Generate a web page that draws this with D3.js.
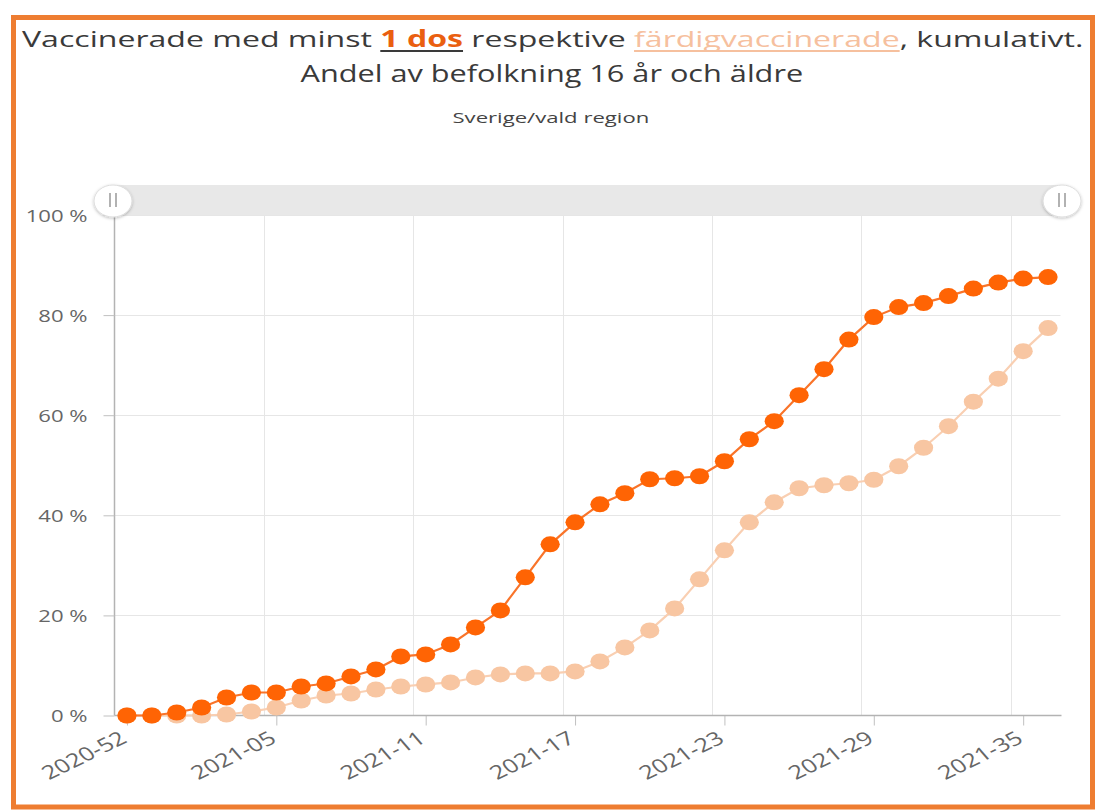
<!DOCTYPE html>
<html><head><meta charset="utf-8">
<script src="https://cdn.jsdelivr.net/npm/d3@7"></script>
<style>
html,body{margin:0;padding:0;background:#fff;}
svg{display:block;}
</style></head>
<body>
<svg id="c" width="1097" height="811"></svg>
<script>
const weeks = ["2020-52","2020-53","2021-01","2021-02","2021-03","2021-04","2021-05","2021-06","2021-07","2021-08",
  "2021-09","2021-10","2021-11","2021-12","2021-13","2021-14","2021-15","2021-16","2021-17","2021-18",
  "2021-19","2021-20","2021-21","2021-22","2021-23","2021-24","2021-25","2021-26","2021-27","2021-28",
  "2021-29","2021-30","2021-31","2021-32","2021-33","2021-34","2021-35","2021-36"];
const minstEnDos = [0,0,0.6,1.6,3.6,4.6,4.6,5.8,6.4,7.8,
  9.2,11.8,12.2,14.2,17.6,21.0,27.6,34.2,38.6,42.2,
  44.4,47.2,47.4,47.8,50.8,55.2,58.8,64.0,69.2,75.1,
  79.6,81.6,82.4,83.8,85.3,86.5,87.3,87.6];
const fardigvacc = [0,0,0,0,0.2,0.8,1.6,3.0,4.0,4.4,
  5.2,5.8,6.2,6.6,7.6,8.2,8.4,8.4,8.8,10.8,
  13.6,17.0,21.4,27.2,33.0,38.6,42.6,45.4,46.0,46.4,
  47.1,49.8,53.5,57.8,62.7,67.3,72.8,77.4];
const xTickLabels = ["2020-52","2021-05","2021-11","2021-17","2021-23","2021-29","2021-35"];
const yTicks = [0,20,40,60,80,100];
const titleParts = ["Vaccinerade med minst ","1 dos"," respektive ","färdigvaccinerade",", kumulativt."];
const title2 = "Andel av befolkning 16 år och äldre";
const subtitle = "Sverige/vald region";

(function(){
const svg = d3.select("#c");
const FONT = "'Open Sans', 'Noto Sans', sans-serif";
const cDark = "#ff6404", cLight = "#f8c6a2";
const SX = 1.33; // horizontal stretch of the reference screenshot

// frame
svg.append("rect").attr("x",13.5).attr("y",17.5).attr("width",1079).attr("height",789.5)
  .attr("fill","#fff").attr("stroke","#ee7d31").attr("stroke-width",5);

// scales
const pL = 114.5, pR = 1060.5, pT = 215, pB = 715.5;
const x = d3.scaleBand().domain(weeks).range([pL,pR]).padding(0);
const xc = d => x(d) + x.bandwidth()/2;
const y = d3.scaleLinear().domain([0,100]).range([pB, pT]);

// horizontal gridlines
svg.append("g").selectAll("line").data(yTicks.filter(t=>t>0)).join("line")
  .attr("x1",pL).attr("x2",pR).attr("y1",d=>Math.round(y(d))+0.5).attr("y2",d=>Math.round(y(d))+0.5)
  .attr("stroke","#e6e6e6").attr("stroke-width",1);
// vertical gridlines at category boundaries of labelled categories
svg.append("g").selectAll("line").data(xTickLabels.slice(1)).join("line")
  .attr("x1",d=>Math.round(x(d))+0.5).attr("x2",d=>Math.round(x(d))+0.5).attr("y1",pT).attr("y2",pB)
  .attr("stroke","#e6e6e6").attr("stroke-width",1);
// y axis line
svg.append("line").attr("x1",pL).attr("x2",pL).attr("y1",200).attr("y2",pB)
  .attr("stroke","#b3b3b3").attr("stroke-width",1.5);

// y axis
const yAxis = d3.axisLeft(y).tickValues(yTicks).tickSize(11).tickPadding(15).tickFormat(d=>d+" %");
const gy = svg.append("g").attr("transform",`translate(${pL},0)`).call(yAxis);
gy.select(".domain").remove();
gy.selectAll(".tick line").attr("stroke","#c0c0c0");
gy.selectAll(".tick text").attr("font-family",FONT).attr("font-size",16).attr("fill","#666")
  .attr("x",0).attr("dy","0.36em").attr("transform",`translate(-27,0.5) scale(${SX+0.05},1)`);

// x axis
const xAxis = d3.axisBottom(d3.scalePoint().domain(weeks).range([xc(weeks[0]), xc(weeks[weeks.length-1])]))
  .tickValues(xTickLabels).tickSize(10).tickPadding(4);
const gx = svg.append("g").attr("transform",`translate(0,${pB})`).call(xAxis);
gx.select(".domain").remove();
gx.selectAll(".tick line").attr("stroke","#c0c0c0");
gx.selectAll(".tick text").attr("font-family",FONT).attr("font-size",19).attr("fill","#666")
  .attr("text-anchor","end").attr("x",0).attr("y",0).attr("dy",null)
  .attr("transform",`translate(1,26) scale(${SX},1) rotate(-33)`);
svg.append("line").attr("x1",pL).attr("x2",pR+1).attr("y1",pB).attr("y2",pB)
  .attr("stroke","#b3b3b3").attr("stroke-width",1.5);

// series
const line = d3.line().x((d,i)=>xc(weeks[i])).y(d=>y(d));
function drawSeries(vals, col, lineCol){
  const g = svg.append("g");
  g.append("path").attr("d",line(vals)).attr("fill","none").attr("stroke",lineCol).attr("stroke-width",2.2);
  g.selectAll("ellipse").data(vals).join("ellipse")
    .attr("cx",(d,i)=>xc(weeks[i])).attr("cy",d=>y(d)).attr("rx",9.6).attr("ry",8).attr("fill",col);
}
drawSeries(fardigvacc, cLight, "#f9cfb2");
drawSeries(minstEnDos, cDark, "#f9742a");

// navigator / slider
svg.append("rect").attr("x",113).attr("y",185).attr("width",949).attr("height",30).attr("fill","#e8e8e8");
const defs = svg.append("defs");
const f = defs.append("filter").attr("id","sh").attr("x","-50%").attr("y","-50%").attr("width","200%").attr("height","200%");
f.append("feDropShadow").attr("dx",0).attr("dy",1).attr("stdDeviation",1.5).attr("flood-color","#000").attr("flood-opacity",0.25);
[113,1062].forEach(cx=>{
  const h = svg.append("g").attr("transform",`translate(${cx},201)`);
  h.append("ellipse").attr("rx",19).attr("ry",16).attr("fill","#fff").attr("stroke","#ddd").attr("filter","url(#sh)");
  [-3,3].forEach(dx=>h.append("line").attr("x1",dx).attr("x2",dx).attr("y1",-8).attr("y2",6)
    .attr("stroke","#aaa").attr("stroke-width",1.8));
});

// titles (stretched horizontally like the reference)
function stretchedText(txtParts, styles, cx, baseline, size, width, color){
  const g = svg.append("g");
  const t = g.append("text").attr("x",0).attr("y",0).attr("font-family",FONT).attr("font-size",size).attr("fill",color);
  const sp = txtParts.map((p,i)=>{
    const s = t.append("tspan").text(p);
    const st = styles[i] || {};
    if(st.fill) s.attr("fill",st.fill);
    if(st.weight) s.attr("font-weight",st.weight);
    return s;
  });
  const w = t.node().getComputedTextLength();
  const sx = width / w;
  const x0 = cx - width/2;
  g.attr("transform",`translate(${x0},${baseline}) scale(${sx},1)`);
  let acc = 0; const offs = sp.map(s=>{ const o = acc; acc += s.node().getComputedTextLength(); return [o, s.node().getComputedTextLength()]; });
  return {g, sx, x0, offs};
}
const T1 = stretchedText(titleParts, [{},{fill:"#ea5f10",weight:700},{},{fill:"#f6c09e"},{}], 553, 47, 22.5, 1062, "#3a3a3a");
[[1,"#3a3a3a"],[3,"#f6c09e"]].forEach(([i,c])=>{
  T1.g.append("line").attr("x1",T1.offs[i][0]).attr("x2",T1.offs[i][0]+T1.offs[i][1])
    .attr("y1",4).attr("y2",4).attr("stroke",c).attr("stroke-width",2);
});
stretchedText([title2], [{}], 552, 82, 24, 503, "#3a3a3a");
stretchedText([subtitle], [{}], 551, 123, 14.5, 197, "#444");
})();
</script>
</body></html>
